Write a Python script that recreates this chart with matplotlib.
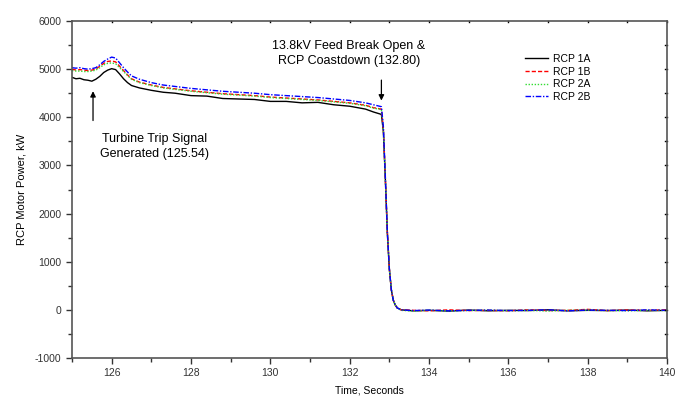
import matplotlib
matplotlib.use("Agg")
import matplotlib.pyplot as plt
from matplotlib.ticker import MultipleLocator

plt.rcParams['font.family'] = ['Liberation Sans', 'DejaVu Sans']
plt.rcParams['axes.unicode_minus'] = False

time = [125.0, 125.1, 125.2, 125.3, 125.4, 125.5, 125.6, 125.7, 125.8, 125.9, 126.0, 126.1,
        126.2, 126.3, 126.4, 126.5, 126.7, 127.0, 127.3, 127.6, 128.0, 128.4, 128.8, 129.2,
        129.6, 130.0, 130.4, 130.8, 131.2, 131.6, 132.0, 132.4, 132.6, 132.8, 132.85, 132.9,
        132.95, 133.0, 133.05, 133.1, 133.15, 133.2, 133.3, 133.6, 134.0, 134.5, 135.0, 135.5,
        136.0, 136.5, 137.0, 137.5, 138.0, 138.5, 139.0, 139.5, 140.0]

rcp_1a = [4830, 4800, 4810, 4780, 4770, 4750, 4790, 4850, 4930, 4980, 5010, 4990,
          4900, 4800, 4720, 4660, 4610, 4560, 4520, 4500, 4450, 4440, 4390, 4380,
          4370, 4330, 4330, 4300, 4310, 4260, 4230, 4170, 4110, 4060, 3700, 2700,
          1600, 850, 420, 200, 100, 40, 0, -20, -10, -25, -5, -20, -10, -15, 0, -20, -10, -15, -5, -20, -10]

rcp_1b = [5000, 4980, 4990, 4980, 4970, 4980, 5000, 5060, 5120, 5160, 5170, 5150,
          5060, 4970, 4880, 4800, 4730, 4670, 4620, 4590, 4550, 4520, 4490, 4470,
          4450, 4420, 4400, 4380, 4360, 4330, 4300, 4250, 4200, 4170, 3750, 2720,
          1610, 860, 420, 200, 100, 40, 0, -10, -20, 0, -15, -10, -20, 0, -15, -10, 10, -15, -5, -10, 0]

rcp_2a = [4970, 4960, 4960, 4950, 4950, 4960, 4980, 5030, 5090, 5120, 5130, 5110,
          5030, 4950, 4870, 4790, 4720, 4660, 4610, 4580, 4540, 4510, 4480, 4460,
          4440, 4410, 4390, 4370, 4350, 4320, 4290, 4240, 4190, 4160, 3740, 2710,
          1600, 850, 420, 200, 100, 40, -10, -25, -10, -20, -15, -5, -20, -10, -25, -10, -5, -15, -20, -10, -15]

rcp_2b = [5030, 5020, 5030, 5010, 5000, 5010, 5030, 5090, 5160, 5210, 5250, 5230,
          5130, 5030, 4940, 4860, 4790, 4720, 4670, 4640, 4600, 4570, 4540, 4520,
          4500, 4470, 4450, 4430, 4410, 4380, 4350, 4300, 4260, 4220, 3800, 2750,
          1620, 860, 420, 200, 100, 40, 0, -15, -5, -20, -10, -5, -15, -10, 0, -20, -5, -10, -15, 0, -10]

series_names = ["RCP 1A", "RCP 1B", "RCP 2A", "RCP 2B"]

fig = plt.figure(figsize=(6.93, 4.05), dpi=100)
ax = fig.add_axes([72/693, 1 - 358/405, (667-72)/693, (358-21)/405])

ax.plot(time, rcp_1a, color='black', lw=1.0, ls='-', label=series_names[0])
ax.plot(time, rcp_1b, color='red', lw=1.0, ls=(0, (3, 1.5)), label=series_names[1])
ax.plot(time, rcp_2a, color='#33dd33', lw=1.0, ls=(0, (1, 1.2)), label=series_names[2])
ax.plot(time, rcp_2b, color='blue', lw=1.0, ls=(0, (4, 1.2, 1, 1.2)), label=series_names[3])

ax.set_xlim(125, 140)
ax.set_ylim(-1000, 6000)
ax.xaxis.set_minor_locator(MultipleLocator(1))
ax.yaxis.set_major_locator(MultipleLocator(1000))
ax.yaxis.set_minor_locator(MultipleLocator(500))
ax.set_xticks([126, 128, 130, 132, 134, 136, 138, 140])

ax.tick_params(which='both', direction='out', length=4, width=1, color='#333333',
               labelsize=7.5, labelcolor='#333333', top=False, right=False)
ax.tick_params(which='minor', length=3)
for s in ax.spines.values():
    s.set_color('#555555')
    s.set_linewidth(1.2)

# small inward ticks on top/right
for xv in range(126, 141):
    ax.plot([xv, xv], [6000, 5970], color='black', lw=1, clip_on=False)
for yv in range(-500, 6000, 500):
    ax.plot([140, 139.95], [yv, yv], color='black', lw=1, clip_on=False)

ax.set_xlabel("Time, Seconds", fontsize=7.5, labelpad=5)
ax.set_ylabel("RCP Motor Power, kW", fontsize=8, labelpad=6)

leg = ax.legend(loc='upper left', bbox_to_anchor=(0.745, 0.93), frameon=False, fontsize=7.5,
                handlelength=2.2, handletextpad=0.5, labelspacing=0.25)

ax.annotate("", xy=(125.53, 4600), xytext=(125.53, 3875),
            arrowprops=dict(arrowstyle='-|>', color='black', lw=0.9, mutation_scale=8))
ax.text(127.08, 3400, "Turbine Trip Signal\nGenerated (125.54)", ha='center', va='center',
        fontsize=9, linespacing=1.35)

ax.annotate("", xy=(132.8, 4290), xytext=(132.8, 4830),
            arrowprops=dict(arrowstyle='-|>', color='black', lw=0.9, mutation_scale=8))
ax.text(131.98, 5320, "13.8kV Feed Break Open &\nRCP Coastdown (132.80)", ha='center', va='center',
        fontsize=9, linespacing=1.35)

fig.savefig("out.png", dpi=100)
